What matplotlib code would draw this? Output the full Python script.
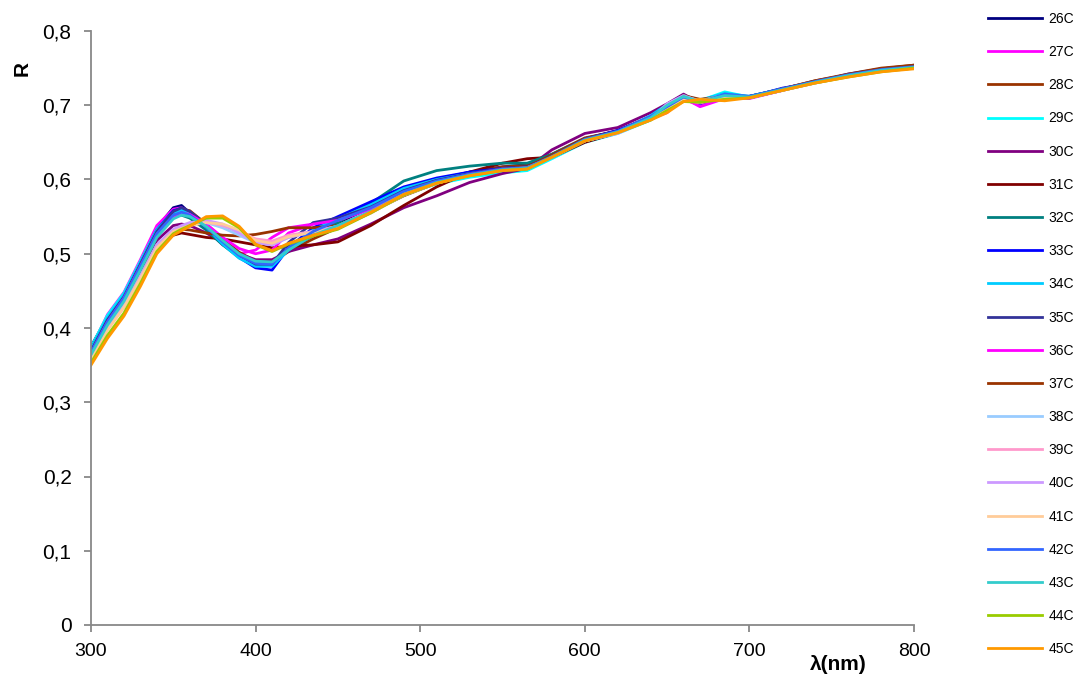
import matplotlib
matplotlib.use("Agg")
import matplotlib.pyplot as plt
from matplotlib.ticker import FuncFormatter, MultipleLocator

plt.rcParams['font.family'] = ['Liberation Sans', 'DejaVu Sans']

# comprimento de onda (nm)
wl = [300, 310, 320, 330, 340, 350, 355, 360, 370, 380, 390, 400, 410, 420, 435, 450,
      470, 490, 510, 530, 550, 565, 580, 600, 620, 640, 650, 660, 670, 685, 700, 720,
      740, 760, 780, 800]

r26 = [0.375, 0.415, 0.445, 0.490, 0.535, 0.562, 0.565, 0.555, 0.538, 0.515, 0.498, 0.488, 0.487, 0.505, 0.525, 0.542,
       0.562, 0.585, 0.600, 0.610, 0.617, 0.620, 0.633, 0.655, 0.666, 0.684, 0.698, 0.712, 0.703, 0.710, 0.712, 0.722,
       0.731, 0.740, 0.747, 0.752]
r27 = [0.372, 0.418, 0.448, 0.492, 0.538, 0.560, 0.562, 0.556, 0.535, 0.512, 0.500, 0.505, 0.522, 0.535, 0.540, 0.548,
       0.565, 0.584, 0.598, 0.608, 0.615, 0.618, 0.632, 0.654, 0.664, 0.683, 0.695, 0.708, 0.700, 0.712, 0.709, 0.720,
       0.731, 0.739, 0.747, 0.751]
r28 = [0.368, 0.410, 0.442, 0.485, 0.528, 0.555, 0.560, 0.558, 0.540, 0.520, 0.502, 0.490, 0.488, 0.503, 0.520, 0.535,
       0.555, 0.580, 0.598, 0.609, 0.617, 0.619, 0.634, 0.656, 0.665, 0.685, 0.700, 0.711, 0.706, 0.714, 0.711, 0.722,
       0.733, 0.741, 0.749, 0.754]
r29 = [0.374, 0.417, 0.447, 0.490, 0.533, 0.556, 0.558, 0.552, 0.535, 0.515, 0.498, 0.487, 0.488, 0.508, 0.530, 0.548,
       0.563, 0.580, 0.594, 0.603, 0.609, 0.612, 0.628, 0.650, 0.662, 0.680, 0.697, 0.713, 0.706, 0.718, 0.711, 0.721,
       0.730, 0.739, 0.746, 0.750]
r30 = [0.365, 0.405, 0.437, 0.478, 0.518, 0.538, 0.540, 0.538, 0.528, 0.515, 0.500, 0.492, 0.492, 0.503, 0.512, 0.520,
       0.540, 0.562, 0.578, 0.596, 0.608, 0.615, 0.640, 0.662, 0.670, 0.690, 0.702, 0.715, 0.703, 0.712, 0.710, 0.720,
       0.732, 0.740, 0.748, 0.752]
r31 = [0.362, 0.402, 0.433, 0.472, 0.510, 0.525, 0.528, 0.526, 0.522, 0.520, 0.516, 0.512, 0.508, 0.510, 0.512, 0.516,
       0.538, 0.565, 0.590, 0.610, 0.622, 0.628, 0.630, 0.650, 0.663, 0.682, 0.696, 0.708, 0.705, 0.712, 0.710, 0.721,
       0.732, 0.740, 0.748, 0.753]
r32 = [0.372, 0.412, 0.442, 0.485, 0.527, 0.550, 0.552, 0.548, 0.532, 0.512, 0.495, 0.484, 0.486, 0.505, 0.525, 0.542,
       0.568, 0.598, 0.612, 0.618, 0.622, 0.622, 0.634, 0.655, 0.665, 0.684, 0.699, 0.710, 0.704, 0.713, 0.712, 0.722,
       0.732, 0.741, 0.748, 0.752]
r33 = [0.370, 0.412, 0.443, 0.487, 0.532, 0.558, 0.561, 0.556, 0.538, 0.515, 0.495, 0.481, 0.478, 0.508, 0.535, 0.550,
       0.570, 0.590, 0.602, 0.610, 0.615, 0.617, 0.631, 0.654, 0.666, 0.684, 0.697, 0.709, 0.702, 0.713, 0.711, 0.723,
       0.731, 0.742, 0.749, 0.753]
r34 = [0.371, 0.414, 0.445, 0.488, 0.532, 0.556, 0.560, 0.554, 0.536, 0.513, 0.494, 0.483, 0.483, 0.505, 0.532, 0.547,
       0.566, 0.588, 0.600, 0.608, 0.614, 0.616, 0.630, 0.653, 0.664, 0.686, 0.701, 0.713, 0.707, 0.716, 0.712, 0.722,
       0.732, 0.741, 0.748, 0.751]
r35 = [0.369, 0.411, 0.442, 0.486, 0.530, 0.557, 0.562, 0.557, 0.540, 0.518, 0.499, 0.486, 0.486, 0.515, 0.542, 0.548,
       0.563, 0.585, 0.599, 0.608, 0.615, 0.617, 0.632, 0.655, 0.665, 0.684, 0.697, 0.710, 0.703, 0.711, 0.712, 0.721,
       0.732, 0.740, 0.748, 0.752]
r36 = [0.366, 0.408, 0.440, 0.483, 0.526, 0.550, 0.555, 0.553, 0.540, 0.522, 0.507, 0.500, 0.505, 0.528, 0.540, 0.545,
       0.560, 0.582, 0.597, 0.607, 0.614, 0.616, 0.630, 0.652, 0.663, 0.682, 0.690, 0.710, 0.698, 0.709, 0.710, 0.720,
       0.731, 0.740, 0.747, 0.751]
r37 = [0.362, 0.402, 0.434, 0.474, 0.512, 0.530, 0.533, 0.532, 0.528, 0.525, 0.524, 0.526, 0.530, 0.535, 0.535, 0.538,
       0.556, 0.578, 0.595, 0.606, 0.614, 0.617, 0.633, 0.655, 0.664, 0.683, 0.698, 0.713, 0.708, 0.712, 0.711, 0.722,
       0.733, 0.742, 0.750, 0.754]
r38 = [0.360, 0.400, 0.430, 0.470, 0.512, 0.532, 0.537, 0.540, 0.542, 0.535, 0.525, 0.515, 0.512, 0.522, 0.530, 0.537,
       0.556, 0.580, 0.596, 0.606, 0.613, 0.616, 0.630, 0.652, 0.663, 0.682, 0.699, 0.712, 0.706, 0.714, 0.711, 0.721,
       0.731, 0.740, 0.747, 0.751]
r39 = [0.358, 0.398, 0.428, 0.468, 0.510, 0.530, 0.535, 0.540, 0.543, 0.538, 0.530, 0.520, 0.517, 0.525, 0.530, 0.536,
       0.555, 0.579, 0.595, 0.606, 0.613, 0.615, 0.630, 0.652, 0.663, 0.682, 0.696, 0.708, 0.703, 0.711, 0.710, 0.720,
       0.730, 0.739, 0.746, 0.750]
r40 = [0.359, 0.399, 0.430, 0.470, 0.512, 0.533, 0.538, 0.542, 0.545, 0.540, 0.528, 0.515, 0.512, 0.522, 0.530, 0.537,
       0.556, 0.580, 0.596, 0.606, 0.613, 0.615, 0.630, 0.652, 0.662, 0.681, 0.702, 0.713, 0.705, 0.713, 0.710, 0.720,
       0.730, 0.739, 0.746, 0.750]
r41 = [0.357, 0.397, 0.428, 0.467, 0.508, 0.530, 0.534, 0.538, 0.542, 0.540, 0.532, 0.518, 0.514, 0.523, 0.529, 0.535,
       0.555, 0.579, 0.595, 0.606, 0.613, 0.615, 0.630, 0.652, 0.663, 0.682, 0.697, 0.709, 0.704, 0.712, 0.711, 0.720,
       0.730, 0.739, 0.746, 0.750]
r42 = [0.367, 0.408, 0.440, 0.483, 0.527, 0.552, 0.556, 0.552, 0.536, 0.516, 0.498, 0.487, 0.486, 0.508, 0.530, 0.545,
       0.562, 0.584, 0.598, 0.607, 0.614, 0.616, 0.631, 0.654, 0.665, 0.685, 0.698, 0.711, 0.704, 0.715, 0.712, 0.722,
       0.732, 0.741, 0.748, 0.752]
r43 = [0.364, 0.404, 0.436, 0.478, 0.522, 0.547, 0.552, 0.550, 0.537, 0.518, 0.500, 0.490, 0.489, 0.505, 0.525, 0.538,
       0.557, 0.580, 0.596, 0.606, 0.613, 0.615, 0.630, 0.653, 0.664, 0.683, 0.700, 0.712, 0.705, 0.713, 0.711, 0.721,
       0.731, 0.740, 0.747, 0.751]
r44 = [0.353, 0.390, 0.420, 0.460, 0.503, 0.527, 0.533, 0.538, 0.548, 0.548, 0.535, 0.512, 0.503, 0.513, 0.524, 0.533,
       0.555, 0.579, 0.595, 0.605, 0.612, 0.614, 0.630, 0.652, 0.663, 0.680, 0.693, 0.705, 0.704, 0.708, 0.710, 0.720,
       0.730, 0.738, 0.745, 0.750]
r45 = [0.350, 0.386, 0.416, 0.456, 0.500, 0.525, 0.531, 0.537, 0.550, 0.551, 0.537, 0.513, 0.504, 0.514, 0.525, 0.534,
       0.556, 0.580, 0.595, 0.605, 0.612, 0.614, 0.630, 0.652, 0.663, 0.680, 0.690, 0.705, 0.708, 0.706, 0.710, 0.720,
       0.730, 0.738, 0.745, 0.749]

labels = ['26C', '27C', '28C', '29C', '30C', '31C', '32C', '33C', '34C', '35C',
          '36C', '37C', '38C', '39C', '40C', '41C', '42C', '43C', '44C', '45C']
series = [r26, r27, r28, r29, r30, r31, r32, r33, r34, r35,
          r36, r37, r38, r39, r40, r41, r42, r43, r44, r45]
colors = ['#000080', '#FF00FF', '#993300', '#00FFFF', '#800080', '#800000', '#008080',
          '#0000FF', '#00CCFF', '#333399', '#FF00FF', '#993300', '#99CCFF', '#FF99CC',
          '#CC99FF', '#FFCC99', '#3366FF', '#33CCCC', '#99CC00', '#FF9900']

fig = plt.figure(figsize=(10.8, 6.8), dpi=100)
ax = fig.add_axes([91/1080, 55/680, 823/1080, 594/680])

for r, lab, c in zip(series, labels, colors):
    ax.plot(wl, r, color=c, lw=2.0, label=lab)

ax.set_xlim(300, 800)
ax.set_ylim(0, 0.8)
ax.xaxis.set_major_locator(MultipleLocator(100))
ax.yaxis.set_major_locator(MultipleLocator(0.1))
ax.yaxis.set_major_formatter(FuncFormatter(lambda v, p: f"{v:.1f}".replace('.', ',') if v > 1e-9 else "0"))

for s in ['top', 'right']:
    ax.spines[s].set_visible(False)
for s in ['left', 'bottom']:
    ax.spines[s].set_color('#888888')
    ax.spines[s].set_linewidth(1.3)
ax.tick_params(direction='out', length=5, width=1.3, color='#888888')
ax.tick_params(axis='y', pad=9, labelsize=15)
ax.tick_params(axis='x', pad=8, labelsize=14)

fig.text(22/1080, 1 - 68/680, 'R', rotation=90, fontsize=15, fontweight='bold',
         ha='center', va='center')
fig.text(838/1080, 1 - 665/680, 'λ(nm)', fontsize=15, fontweight='bold',
         ha='center', va='center')

fig.legend(loc='upper left', bbox_to_anchor=(988/1080, 1 - 12/680), frameon=False,
           fontsize=10, handlelength=3.9, handletextpad=0.45, labelspacing=1.38,
           borderpad=0, borderaxespad=0)

fig.savefig('out.png', dpi=100)
